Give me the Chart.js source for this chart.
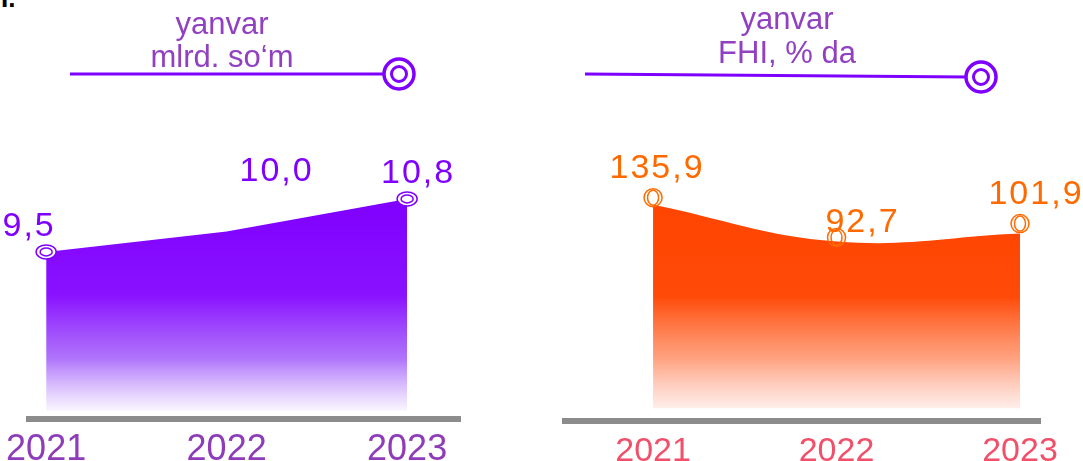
<!DOCTYPE html>
<html>
<head>
<meta charset="utf-8">
<script src="https://cdn.jsdelivr.net/npm/chart.js@4.4.1/dist/chart.umd.min.js"></script>
<style>
html, body { margin: 0; padding: 0; background: #fff; }
#wrap { position: relative; width: 1083px; height: 461px; overflow: hidden; }
.box { position: absolute; top: 0; height: 490px; }
#boxLeft { left: 0; width: 540px; }
#boxRight { left: 540px; width: 543px; }
#corner { position: absolute; left: 1px; top: -15px; font: bold 26px/26px "Liberation Sans", Arial, sans-serif; color: #000; }
</style>
</head>
<body>
<div id="wrap">
  <div id="corner">I.</div>
  <div class="box" id="boxLeft"><canvas id="chartLeft" width="540" height="473"></canvas></div>
  <div class="box" id="boxRight"><canvas id="chartRight" width="543" height="475"></canvas></div>
</div>
<script>
// datos
const years = ["2021", "2022", "2023"];
const sumValues = [9.5, 10.0, 10.8];
const fhiValues = [135.9, 92.7, 101.9];
const sumLabels = ["9,5", "10,0", "10,8"];
const fhiLabels = ["135,9", "92,7", "101,9"];
const sumHeader = ["yanvar", "mlrd. so‘m"];
const fhiHeader = ["yanvar", "FHI, % da"];

const fontFamily = '"Liberation Sans", Arial, sans-serif';

function toPoints(values) {
    return values.map((v, i) => ({ x: i, y: v }));
}

function makeGradient(colorStops, topPx, bottomPx) {
    return (context) => {
        const { ctx } = context.chart;
        const g = ctx.createLinearGradient(0, topPx, 0, bottomPx);
        colorStops.forEach(s => g.addColorStop(s[0], s[1]));
        return g;
    };
}

// encabezado, marcadores y etiquetas
const decorPlugin = {
    id: 'decor',
    afterDatasetsDraw(chart, args, opts) {
        const ctx = chart.ctx;
        const meta = chart.getDatasetMeta(0);
        ctx.save();
        meta.data.forEach((pt, i) => {
            const mx = pt.x;
            const my = pt.y + opts.markerDy[i];
            ctx.lineWidth = 1.5;
            ctx.strokeStyle = opts.markerColor;
            if (opts.markerShow[i]) {
                if (opts.markerFill) {
                    ctx.fillStyle = opts.markerFill;
                    ctx.beginPath();
                    ctx.ellipse(mx, my, 10, 7, 0, 0, Math.PI * 2);
                    ctx.fill();
                    ctx.stroke();
                    ctx.beginPath();
                    ctx.ellipse(mx, my, 6, 4, 0, 0, Math.PI * 2);
                    ctx.stroke();
                } else {
                    ctx.beginPath();
                    ctx.arc(mx, my, 9, 0, Math.PI * 2);
                    ctx.stroke();
                    ctx.beginPath();
                    ctx.ellipse(mx, my, 5.5, 7.5, 0, 0, Math.PI * 2);
                    ctx.stroke();
                }
            }

            ctx.fillStyle = opts.labelColor;
            ctx.font = '34px ' + fontFamily;
            ctx.letterSpacing = '2px';
            ctx.textAlign = 'center';
            ctx.textBaseline = 'alphabetic';
            ctx.fillText(opts.labels[i], pt.x + opts.labelDx[i], pt.y + opts.labelDy[i]);
        });
        ctx.restore();
    },
    afterDraw(chart, args, opts) {
        const ctx = chart.ctx;
        const h = opts.header;
        ctx.save();
        ctx.fillStyle = '#9040C0';
        ctx.font = '31px ' + fontFamily;
        ctx.textAlign = 'center';
        ctx.textBaseline = 'alphabetic';
        ctx.fillText(opts.headerText[0], h.cx, h.y1);
        ctx.fillText(opts.headerText[1], h.cx, h.y2);

        ctx.strokeStyle = '#7F00FF';
        ctx.lineWidth = 3;
        ctx.beginPath();
        ctx.moveTo(h.x0, h.ly0);
        ctx.lineTo(h.x1, h.ly1);
        ctx.stroke();

        ctx.fillStyle = '#fff';
        ctx.lineWidth = 3.5;
        ctx.beginPath();
        ctx.arc(h.ccx, h.ccy, 15, 0, Math.PI * 2);
        ctx.fill();
        ctx.stroke();
        ctx.lineWidth = 3;
        ctx.beginPath();
        ctx.arc(h.ccx, h.ccy, 7.5, 0, Math.PI * 2);
        ctx.stroke();
        ctx.restore();
    }
};

function buildChart(canvasId, cfg) {
    return new Chart(document.getElementById(canvasId), {
        type: 'line',
        data: {
            datasets: [{
                data: toPoints(cfg.values),
                borderWidth: 0,
                borderColor: 'rgba(0,0,0,0)',
                backgroundColor: cfg.fillColor,
                fill: { value: cfg.fillTo },
                tension: cfg.tension,
                pointRadius: 0
            }]
        },
        options: {
            responsive: false,
            animation: false,
            devicePixelRatio: 1,
            layout: { padding: { left: cfg.padLeft, right: cfg.padRight, top: 150, bottom: 0 } },
            plugins: {
                legend: { display: false },
                tooltip: { enabled: false },
                decor: cfg.decor
            },
            scales: {
                x: {
                    type: 'linear',
                    min: cfg.xMin,
                    max: cfg.xMax,
                    afterBuildTicks: (scale) => {
                        scale.ticks = years.map((_, i) => ({ value: i }));
                    },
                    ticks: {
                        callback: (v) => years[v],
                        color: cfg.tickColor,
                        font: { family: fontFamily, size: cfg.tickSize, lineHeight: 1 },
                        padding: cfg.tickPadding,
                        maxRotation: 0,
                        autoSkip: false
                    },
                    grid: { display: false },
                    border: { display: true, color: '#8c8c8c', width: 6 }
                },
                y: { display: false, min: cfg.yMin, max: cfg.yMax }
            }
        },
        plugins: [decorPlugin]
    });
}

buildChart('chartLeft', {
    values: sumValues,
    tension: 0,
    fillTo: 5.6,
    yMin: 5.4,
    yMax: 12,
    xMin: -0.094,
    xMax: 2.293,
    padLeft: 28,
    padRight: 80,
    tickPadding: 5,
    tickSize: 36,
    tickColor: '#8E3CB8',
    fillColor: makeGradient([[0, '#7F00FF'], [0.45, '#8A12FF'], [0.75, 'rgba(150,70,250,0.75)'], [1, 'rgba(170,110,250,0.05)']], 200, 412),
    decor: {
        labels: sumLabels,
        labelColor: '#7F00FF',
        labelDx: [-17, 50, 11],
        labelDy: [-16, -51, -16],
        markerShow: [true, false, true],
        markerDy: [0, 0, 0],
        markerColor: '#7F00FF',
        markerFill: '#fff',
        headerText: sumHeader,
        header: { cx: 222, y1: 34, y2: 67, x0: 70, ly0: 74, x1: 385, ly1: 74, ccx: 399, ccy: 74 }
    }
});

buildChart('chartRight', {
    values: fhiValues,
    tension: 0.4,
    fillTo: -103,
    yMin: -118,
    yMax: 200,
    xMin: -0.48,
    xMax: 2.109,
    padLeft: 25,
    padRight: 43,
    tickPadding: 6,
    tickSize: 34,
    tickColor: '#F0506A',
    fillColor: makeGradient([[0, '#FF4500'], [0.45, '#FF4A08'], [0.75, 'rgba(255,120,70,0.7)'], [1, 'rgba(255,140,110,0.15)']], 205, 408),
    decor: {
        labels: fhiLabels,
        labelColor: '#FF6A00',
        labelDx: [4, 26, 16],
        labelDy: [-27, -9, -30],
        markerShow: [true, true, true],
        markerDy: [-7, -4, -10],
        markerColor: '#FF6A00',
        markerFill: null,
        headerText: fhiHeader,
        header: { cx: 247, y1: 29, y2: 63, x0: 45, ly0: 74, x1: 428, ly1: 77, ccx: 441, ccy: 77 }
    }
});
</script>
</body>
</html>
